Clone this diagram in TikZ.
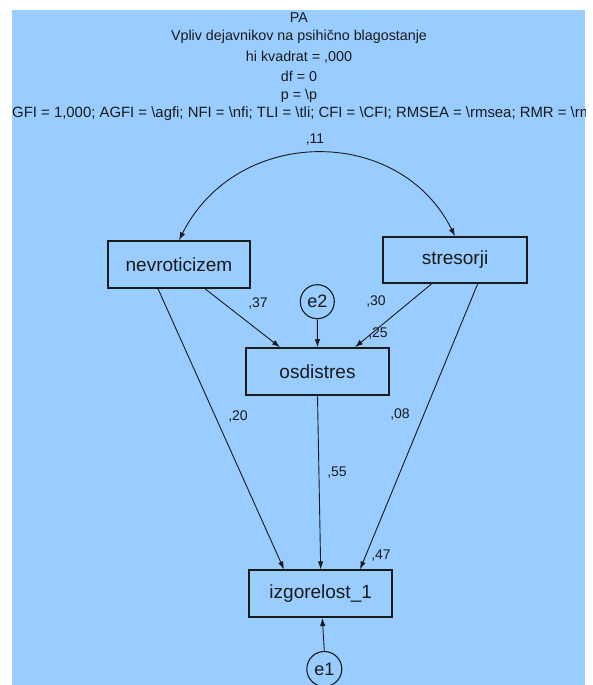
\documentclass[tikz,border=0pt]{standalone}
\usepackage{fontspec}
\setmainfont{Liberation Sans}
\usetikzlibrary{arrows.meta}
\definecolor{bgblue}{HTML}{99CCFF}
\definecolor{ink}{HTML}{1A1A1A}
\begin{document}
\begin{tikzpicture}[x=1pt,y=-1pt,
  box/.style={draw=ink, line width=1.5pt, minimum width=143pt, minimum height=47pt, inner sep=0pt, font=\fontsize{19}{22}\selectfont, text=ink},
  err/.style={circle, draw=ink, line width=1.1pt, minimum size=35pt, inner sep=0pt, font=\fontsize{18}{21}\selectfont, text=ink},
  arr/.style={draw=ink, line width=0.9pt, -{Latex[length=8pt,width=5.5pt]}},
  dbl/.style={draw=ink, line width=0.9pt, {Latex[length=8pt,width=5.5pt]}-{Latex[length=8pt,width=5.5pt]}},
  coef/.style={font=\fontsize{14}{16}\selectfont, text=ink, inner sep=0pt},
  ttl/.style={font=\fontsize{14.3}{16}\selectfont, text=ink, inner sep=0pt}]
\useasboundingbox (0,0) rectangle (593,685);
\fill[white] (0,0) rectangle (593,685);
\fill[bgblue] (12,10) rectangle (585,685);
\begin{scope}
\clip (12,10) rectangle (585,685);
\node[ttl] (t1) at (299,18) {PA};
\node[ttl] (t2) at (299,37) {Vpliv dejavnikov na psihično blagostanje};
\node[ttl] (t3) at (299,57) {hi kvadrat = ,000};
\node[ttl] (t4) at (299,76) {df = 0};
\node[ttl] (t5) at (299,96) {p = \textbackslash p};
\node[ttl, font=\fontsize{14.9}{16}\selectfont, anchor=west] (t6) at (12,114) {GFI = 1,000; AGFI = \textbackslash agfi; NFI = \textbackslash nfi; TLI = \textbackslash tli; CFI = \textbackslash CFI; RMSEA = \textbackslash rmsea; RMR = \textbackslash rmr};
\end{scope}

\node[box, minimum width=142pt] (nev) at (179,264.5) {nevroticizem};
\node[box, minimum width=144pt, minimum height=46pt] (str) at (455,260) {stresorji};
\node[box] (osd) at (317.5,371.5) {osdistres};
\node[box] (izg) at (320.7,593.7) {izgorelost\_1};
\node[err, minimum size=34pt] (e2) at (317.3,301.7) {e2};
\node[err] (e1) at (324.3,669) {e1};

\draw[dbl] (nev.north) .. controls (237,125) and (400,125) .. (str.north);
\draw[arr] ([xshift=26pt]nev.south) -- ([xshift=-37.5pt]osd.north);
\draw[arr] ([xshift=-23.3pt]str.south) -- ([xshift=37.5pt]osd.north);
\draw[arr] (e2.south) -- (osd.north);
\draw[arr] ([xshift=-21pt]nev.south) -- ([xshift=-36.7pt]izg.north);
\draw[arr] ([xshift=22.7pt]str.south) -- ([xshift=39.3pt]izg.north);
\draw[arr] (osd.south) -- (izg.north);
\draw[arr] (e1.north) -- ([xshift=1.6pt]izg.south);

\node[coef] (c11) at (315,140) {,11};
\node[coef] (c37) at (258,304) {,37};
\node[coef] (c30) at (376,302) {,30};
\node[coef] (c25) at (378,334) {,25};
\node[coef] (c20) at (238,417) {,20};
\node[coef] (c08) at (400,415) {,08};
\node[coef] (c55) at (337,473) {,55};
\node[coef] (c47) at (381,556) {,47};
\end{tikzpicture}
\end{document}
